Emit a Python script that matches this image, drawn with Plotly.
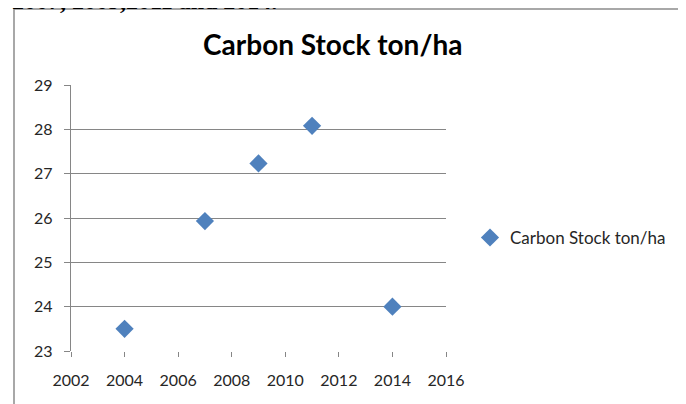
import plotly.graph_objects as go

years = [2004, 2007, 2009, 2011, 2014]
carbon_stock = [23.5, 25.93, 27.23, 28.08, 24.0]
series_name = "Carbon Stock ton/ha"
chart_title = "Carbon Stock ton/ha"
caption_text = "2007, 2009,2011 and 2014."

fig = go.Figure()

fig.add_trace(go.Scatter(
    x=years,
    y=carbon_stock,
    mode="markers",
    name=series_name,
    marker=dict(symbol="diamond", size=14, color="#4F81BD",
                line=dict(width=0)),
))

axis_font = dict(family="Lato, Open Sans, sans-serif", size=16, color="#262626")

# page body adds an 8px margin, so the figure is a bit smaller than the window
fig.update_layout(
    width=678,
    height=396,
    margin=dict(l=63, r=240, t=77, b=53),
    paper_bgcolor="white",
    plot_bgcolor="white",
    showlegend=True,
    title=dict(
        text="<b>" + chart_title + "</b>",
        x=0.479, xanchor="center",
        y=0.905, yanchor="middle",
        font=dict(family="Lato, Open Sans, sans-serif", size=28, color="black"),
    ),
    legend=dict(
        x=1.064, xanchor="left",
        y=0.425, yanchor="middle",
        font=dict(family="Lato, Open Sans, sans-serif", size=17, color="#262626"),
        itemwidth=30,
    ),
    xaxis=dict(
        range=[2002, 2016],
        tickvals=[2002, 2004, 2006, 2008, 2010, 2012, 2014, 2016],
        showgrid=False,
        zeroline=False,
        showline=False,
        ticks="outside",
        ticklen=5,
        tickcolor="#868686",
        tickfont=axis_font,
        ticklabelstandoff=10,
        automargin=False,
    ),
    yaxis=dict(
        range=[23, 29],
        dtick=1,
        showgrid=True,
        gridcolor="#868686",
        gridwidth=1,
        zeroline=False,
        showline=True,
        linecolor="#868686",
        linewidth=1,
        ticks="outside",
        ticklen=6,
        tickcolor="#868686",
        tickfont=axis_font,
        ticksuffix="\u00a0\u00a0",
        automargin=False,
    ),
)

# chart frame (Excel-like border)
fig.add_shape(type="rect", xref="paper", yref="paper",
              x0=-0.152, x1=1.632, y0=-0.25, y1=1.286,
              line=dict(color="#8c8c8c", width=1.5), layer="below")

# caption text cut off at the top of the picture
fig.add_annotation(text="<b>" + caption_text + "</b>", xref="paper", yref="paper",
                   x=-0.163, xanchor="left", y=1.258, yanchor="bottom",
                   showarrow=False,
                   font=dict(family="Liberation Serif, serif", size=24, color="black"))

fig.write_html("out.html")
